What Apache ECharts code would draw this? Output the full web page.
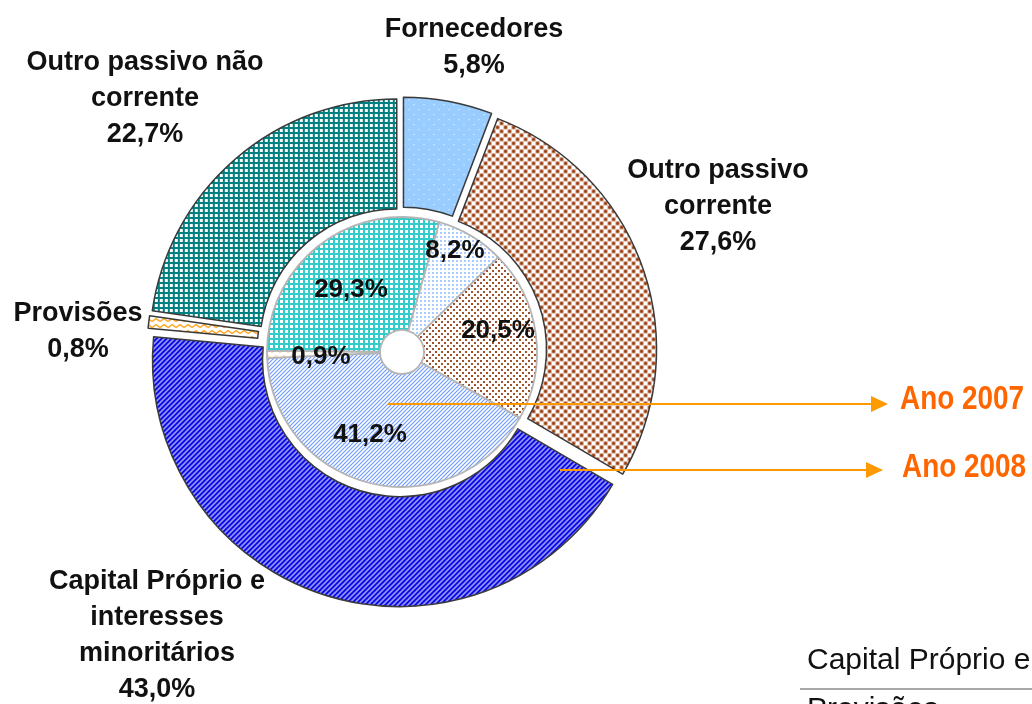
<!DOCTYPE html>
<html>
<head>
<meta charset="utf-8">
<script src="https://cdn.jsdelivr.net/npm/echarts@6/dist/echarts.min.js"></script>
<style>
html,body{margin:0;padding:0;background:#fff;}
#chart{width:1032px;height:704px;}
</style>
</head>
<body>
<div id="chart"></div>
<script>
// ---- DATA ----
const categories = ['Fornecedores', 'Outro passivo corrente', 'Capital Próprio e interesses minoritários', 'Provisões', 'Outro passivo não corrente'];
const labelNames = ['Fornecedores', 'Outro passivo\ncorrente', 'Capital Próprio e\ninteresses\nminoritários', 'Provisões', 'Outro passivo não\ncorrente'];
const values2008 = [5.8, 27.6, 43.0, 0.8, 22.7];   // outer ring
const values2007 = [8.2, 20.5, 41.2, 0.9, 29.3];   // inner ring
const yearLabels = ['Ano 2007', 'Ano 2008'];
const tableRows = ['Capital Próprio e', 'Provisões'];

// ---- STYLE ----
function tile(w, h, draw) {
  const c = document.createElement('canvas');
  c.width = w; c.height = h;
  const g = c.getContext('2d');
  draw(g, w, h);
  return c;
}
function stripes(bg, fg, size, lw) {
  return tile(size, size, (g, w, h) => {
    g.fillStyle = bg; g.fillRect(0, 0, w, h);
    g.strokeStyle = fg; g.lineWidth = lw;
    g.beginPath();
    g.moveTo(0, h); g.lineTo(w, 0);
    g.moveTo(-1, 1); g.lineTo(1, -1);
    g.moveTo(w - 1, h + 1); g.lineTo(w + 1, h - 1);
    g.stroke();
  });
}
function zigzag(fg, lw) {
  return tile(8, 6, (g, w, h) => {
    g.fillStyle = '#fff'; g.fillRect(0, 0, w, h);
    g.strokeStyle = fg; g.lineWidth = lw;
    g.beginPath(); g.moveTo(0, 4.5); g.lineTo(4, 1.5); g.lineTo(8, 4.5); g.stroke();
  });
}
function grid(bg, size, sq) {
  return tile(size, size, (g, w, h) => {
    g.fillStyle = bg; g.fillRect(0, 0, w, h);
    g.fillStyle = '#fff'; g.fillRect(0, 0, sq, sq);
  });
}
const pat = (c) => ({ image: c, repeat: 'repeat' });

const outerPatterns = [
  pat(tile(10, 10, (g) => { g.fillStyle = '#99ccff'; g.fillRect(0, 0, 10, 10); g.fillStyle = '#fff'; g.fillRect(2, 2, 1, 1); g.fillRect(7, 7, 1, 1); })),
  pat(tile(8, 8, (g) => { g.fillStyle = '#fff'; g.fillRect(0, 0, 8, 8); g.fillStyle = '#993300'; g.fillRect(0.3, 0.3, 3.4, 3.4); g.fillRect(4.3, 4.3, 3.4, 3.4); })),
  pat(stripes('#fff', '#0000e8', 5, 2.5)),
  pat(zigzag('#ff9900', 1.3)),
  pat(grid('#008080', 5, 3))
];
const innerPatterns = [
  pat(tile(4, 4, (g) => { g.fillStyle = '#fff'; g.fillRect(0, 0, 4, 4); g.fillStyle = '#a9cdff'; g.fillRect(0, 0, 2, 2); })),
  pat(tile(6, 6, (g) => { g.fillStyle = '#fff'; g.fillRect(0, 0, 6, 6); g.fillStyle = '#a0522d'; g.fillRect(0, 0, 2, 2); g.fillRect(3, 3, 2, 2); })),
  pat(stripes('#fff', '#6f9cff', 4, 1.2)),
  pat(zigzag('#f5d6b0', 1.2)),
  pat(grid('#33cccc', 5, 3))
];

const FONT = "'Liberation Sans', Arial, sans-serif";
const fmt = (v) => v.toFixed(1).replace('.', ',') + '%';

// label anchor points (layout)
const outerLabelPos = [[474, 48], [718, 207], [157, 636], [78, 332], [145, 99]];
const innerLabelPos = [[455, 251], [498, 331], [370, 435], [321, 357], [351, 290]];

const CENTER = [402, 352];
const OUTER_R = [137, 247];

const chart = echarts.init(document.getElementById('chart'), null, { renderer: 'canvas' });
chart.setOption({
  animation: false,
  backgroundColor: '#fff',
  series: [
    {
      type: 'pie',
      name: '2007',
      center: CENTER,
      radius: [22, 135],
      startAngle: 74,
      clockwise: true,
      avoidLabelOverlap: false,
      emphasis: { disabled: true },
      itemStyle: { borderColor: '#b5b5b5', borderWidth: 1.8 },
      label: {
        show: true,
        position: 'inside',
        formatter: (p) => fmt(p.value),
        fontFamily: FONT, fontWeight: 'bold', fontSize: 26, color: '#111'
      },
      labelLine: { show: false },
      labelLayout: (p) => ({ x: innerLabelPos[p.dataIndex][0], y: innerLabelPos[p.dataIndex][1], align: 'center', verticalAlign: 'middle' }),
      data: categories.map((c, i) => ({ name: c, value: values2007[i], itemStyle: { color: innerPatterns[i] } }))
    },
    {
      type: 'pie',
      name: '2008',
      center: CENTER,
      radius: OUTER_R,
      startAngle: 90,
      clockwise: true,
      selectedMode: 'multiple',
      selectedOffset: 8,
      avoidLabelOverlap: false,
      emphasis: { disabled: true },
      itemStyle: { borderColor: '#3a3a3a', borderWidth: 1.5 },
      select: { itemStyle: { borderColor: '#3a3a3a', borderWidth: 1.5 } },
      label: { show: false },
      labelLine: { show: false },
      data: categories.map((c, i) => ({ name: c, value: values2008[i], selected: true, itemStyle: { color: outerPatterns[i] } }))
    },
    {
      // label carrier for the 2008 ring (invisible slices)
      type: 'pie',
      name: '2008 labels',
      center: CENTER,
      radius: OUTER_R,
      startAngle: 90,
      clockwise: true,
      silent: true,
      avoidLabelOverlap: false,
      emphasis: { disabled: true },
      itemStyle: { color: 'rgba(0,0,0,0)', borderWidth: 0 },
      label: {
        show: true,
        position: 'inside',
        formatter: (p) => labelNames[p.dataIndex] + '\n' + fmt(p.value),
        fontFamily: FONT, fontWeight: 'bold', fontSize: 27, lineHeight: 36, color: '#111', align: 'center'
      },
      labelLine: { show: false },
      labelLayout: (p) => ({ x: outerLabelPos[p.dataIndex][0], y: outerLabelPos[p.dataIndex][1], align: 'center', verticalAlign: 'middle' }),
      data: categories.map((c, i) => ({ name: c, value: values2008[i] }))
    }
  ],
  graphic: [
    { type: 'line', shape: { x1: 388, y1: 404, x2: 876, y2: 404 }, style: { stroke: '#ff9900', lineWidth: 2.2 }, z: 100 },
    { type: 'polygon', shape: { points: [[871, 396], [888, 404], [871, 412]] }, style: { fill: '#ff9900' }, z: 100 },
    { type: 'text', x: 900, y: 400, scaleX: 0.82, style: { text: yearLabels[0], font: 'bold 34px ' + FONT, fill: '#ff6600', align: 'left', verticalAlign: 'middle' }, z: 100 },
    { type: 'line', shape: { x1: 560, y1: 470, x2: 871, y2: 470 }, style: { stroke: '#ff9900', lineWidth: 2.2 }, z: 100 },
    { type: 'polygon', shape: { points: [[866, 462], [883, 470], [866, 478]] }, style: { fill: '#ff9900' }, z: 100 },
    { type: 'text', x: 902, y: 468, scaleX: 0.82, style: { text: yearLabels[1], font: 'bold 34px ' + FONT, fill: '#ff6600', align: 'left', verticalAlign: 'middle' }, z: 100 },
    { type: 'text', x: 807, y: 661, style: { text: tableRows[0], font: '30px ' + FONT, fill: '#111', align: 'left', verticalAlign: 'middle' }, z: 100 },
    { type: 'line', shape: { x1: 800, y1: 689, x2: 1032, y2: 689 }, style: { stroke: '#a8a8a8', lineWidth: 2 }, z: 100 },
    { type: 'text', x: 807, y: 710, style: { text: tableRows[1], font: '30px ' + FONT, fill: '#111', align: 'left', verticalAlign: 'middle' }, z: 100 }
  ]
});
</script>
</body>
</html>
